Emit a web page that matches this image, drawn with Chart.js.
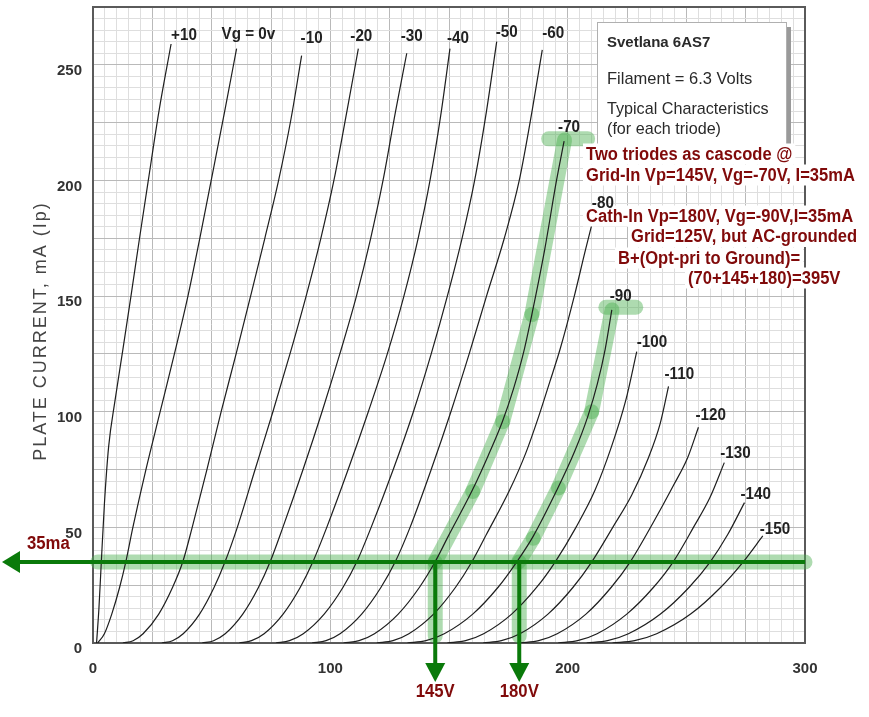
<!DOCTYPE html>
<html>
<head>
<meta charset="utf-8">
<script src="https://cdn.jsdelivr.net/npm/chart.js@4.4.1/dist/chart.umd.min.js"></script>
<style>
  html, body { margin: 0; padding: 0; background: #fff; }
  canvas { display: block; }
</style>
</head>
<body>
<canvas id="tubeChart" width="869" height="717"></canvas>
<script>
// Svetlana 6AS7 plate curves, points are [plate volts, plate mA]
const vgLabels = ['+10', 'Vg = 0v', '-10', '-20', '-30', '-40', '-50', '-60', '-70',
                  '-80', '-90', '-100', '-110', '-120', '-130', '-140', '-150'];

const ipVgP10 = [[1.5,0],[2.5,15],[3.5,35],[4.8,60],[6.6,85],[9.3,105],[12.6,127],[16,150],[19.6,175],[23.3,200],[27.8,230],[32.9,259]];
const ipVg0 = [[2,0],[4.8,4],[7.9,12.5],[11.2,24],[13.8,35],[16.8,50],[22.3,75],[28.3,100],[34.3,125],[40,150],[45,175],[49.8,200],[55.5,230],[60.5,257]];
const ipVgM10 = [[12.6,0],[16.9,1],[21.1,4],[27.7,12.5],[33.5,24],[37.8,35],[41.8,50],[48,75],[54,100],[60.3,125],[66.4,150],[72.4,175],[78.2,200],[83.5,227],[87.9,254]];
const ipVgM20 = [[29,0],[33.5,1],[38,4],[44.9,12.5],[51,24],[55.6,35],[60.8,50],[68.3,75],[75.8,100],[83,125],[89.8,150],[96,175],[101.5,200],[107,230],[111.8,257]];
const ipVgM30 = [[46,0],[50.8,1],[55.7,4],[63.1,12.5],[69.7,24],[74.6,35],[80,50],[88.5,75],[96.5,100],[104,125],[111,150],[117,175],[122.2,200],[127.5,230],[132.2,255]];
const ipVgM40 = [[61.6,0],[66.8,1],[72.1,4],[80.1,12.5],[87.3,24],[92.6,35],[98.5,50],[107.5,75],[116,100],[124,125],[131,150],[137,175],[142,200],[146.5,228],[150.4,257]];
const ipVgM50 = [[77.1,0],[82.8,1],[88.6,4],[97.4,12.5],[105.3,24],[111.1,35],[117.2,50],[126.5,75],[135,100],[142.5,125],[149.3,150],[155.5,175],[160.8,200],[165.8,230],[170.1,260]];
const ipVgM60 = [[92.3,0],[98.2,1],[104.1,4],[113.2,12.5],[121.3,24],[127.3,35],[133.6,50],[142.5,75],[150.8,100],[158.5,125],[165.8,150],[173.3,175],[179.6,200],[185,230],[189.3,256.5]];
const ipVgM70 = [[105.6,0],[112.1,1],[118.6,4],[128.6,12.5],[137.5,24],[144.1,35],[149.6,46],[159.8,66],[166.5,81],[172.6,96],[177.2,110],[181.5,126],[184.9,142],[190.3,170],[195.3,200],[198.5,217]];
const ipVgM80 = [[119.6,0],[126.4,1],[133.1,4],[143.5,12.5],[152.7,24],[159.6,35],[165.8,47],[175.5,66],[182.3,82],[187.8,98],[192.5,113],[196.8,127],[202.8,150],[207.5,170],[210.2,181]];
const ipVgM90 = [[132.5,0],[140.3,1],[148,4],[160,12.5],[170.6,24],[178.5,35],[185.4,46],[195.4,66],[203,83],[208.5,98],[212.5,112],[215.8,127],[218.6,144]];
const ipVgM100 = [[149.3,0],[157,1],[164.6,4],[176.4,12.5],[186.9,24],[194.7,35],[203.5,50],[211.5,66],[218.5,85],[224.5,105],[229.1,126]];
const ipVgM110 = [[164.4,0],[172.1,1],[179.9,4],[191.7,12.5],[202.2,24],[210.1,35],[219,50],[227,64],[234,80],[239,95],[242.5,111]];
const ipVgM120 = [[180,0],[187.8,1],[195.6,4],[207.7,12.5],[218.3,24],[226.3,35],[236,52],[244.5,68],[250.5,80],[255.1,93.3]];
const ipVgM130 = [[196,0],[204.2,1],[212.4,4],[224.9,12.5],[236.1,24],[244.4,35],[253,50],[260,63],[266,78]];
const ipVgM140 = [[208,0],[216.8,1],[225.6,4],[239.1,12.5],[251.1,24],[260,35],[267.5,47],[274.5,60.7]];
const ipVgM150 = [[218.9,0],[228.2,1],[237.5,4],[251.8,12.5],[264.4,24],[273.9,35],[282.2,46.3]];

const curves = [ipVgP10, ipVg0, ipVgM10, ipVgM20, ipVgM30, ipVgM40, ipVgM50, ipVgM60, ipVgM70,
                ipVgM80, ipVgM90, ipVgM100, ipVgM110, ipVgM120, ipVgM130, ipVgM140, ipVgM150];

const xTickLabels = [0, 100, 200, 300];
const yTickLabels = [0, 50, 100, 150, 200, 250];

// cascode operating point marks
const loadLineMa = 35;
const loadLineLabel = '35ma';
const opVp = [144.2, 179.6];
const opVpLabels = ['145V', '180V'];
const gridInTrace = [[144.1,35],[160,65.5],[172.6,95.7],[184.9,142],[198.7,217.5]];
const gridInCap = [[192,218],[208.4,218]];
const cathInTrace = [[179.3,35],[185.5,45.3],[196.1,67],[210.1,100],[218.7,144]];
const cathInCap = [[216.1,145.2],[228.7,145.2]];

const infoLines = ['Svetlana 6AS7', 'Filament = 6.3 Volts', 'Typical Characteristics', '(for each triode)'];
const noteLines = ['Two triodes as cascode @', 'Grid-In Vp=145V, Vg=-70V, I=35mA',
                   'Cath-In Vp=180V, Vg=-90V,I=35mA', 'Grid=125V, but AC-grounded',
                   'B+(Opt-pri to Ground)=', '(70+145+180)=395V'];

const BAND = 'rgba(76,175,80,0.45)';
const DARK_GREEN = '#0a7a0a';
const DARK_RED = '#800a0a';
const SANS = "'Liberation Sans', Arial, sans-serif";

const toPts = arr => arr.map(p => ({ x: p[0], y: p[1] }));

const curveSets = curves.map((c, i) => ({
    label: vgLabels[i],
    data: toPts(c),
    showLine: true,
    borderColor: '#1e1e1e',
    borderWidth: 1.2,
    pointRadius: 0,
    cubicInterpolationMode: 'monotone',
    order: 0
}));

function bandSet(pts, dots) {
    return {
        data: toPts(pts),
        showLine: true,
        borderColor: BAND,
        borderWidth: 15,
        borderCapStyle: 'round',
        borderJoinStyle: 'round',
        pointRadius: dots,
        pointBackgroundColor: BAND,
        pointBorderWidth: 0,
        pointHoverRadius: 0,
        tension: 0,
        clip: false,
        order: 1
    };
}

const bandSets = [
    bandSet([[2, loadLineMa], [300, loadLineMa]], 0),
    bandSet([[opVp[0], loadLineMa], [opVp[0], 3]], 0),
    bandSet([[opVp[1], loadLineMa], [opVp[1], 3]], 0),
    bandSet(gridInTrace, [0, 7.5, 7.5, 7.5, 0]),
    bandSet(gridInCap, 0),
    bandSet(cathInTrace, [0, 7.5, 7.5, 7.5, 0]),
    bandSet(cathInCap, 0)
];

// small pixel nudges for the curve labels [dx, dy] from the curve's top end
const labelNudge = {
    '+10': [0, -4], 'Vg = 0v': [-15, -10], '-10': [-1, -13], '-20': [-8, -8], '-30': [-6, -12],
    '-40': [-3, -6], '-50': [-1, -5], '-60': [0, -12], '-70': [-6, -9], '-80': [0, -16],
    '-90': [-2, -9], '-100': [0, -5], '-110': [-4, -7], '-120': [-3, -7], '-130': [-4, -5],
    '-140': [-4, -4], '-150': [-3, -2]
};

function drawText(ctx, str, x, y, font, color, sx, align) {
    ctx.save();
    ctx.font = font;
    ctx.fillStyle = color;
    ctx.textBaseline = 'alphabetic';
    ctx.textAlign = align || 'left';
    ctx.translate(x, y);
    ctx.scale(sx, 1);
    ctx.fillText(str, 0, 0);
    ctx.restore();
}

function textWidth(ctx, str, font, sx) {
    ctx.save();
    ctx.font = font;
    const w = ctx.measureText(str).width * sx;
    ctx.restore();
    return w;
}

function arrow(ctx, x1, y1, x2, y2, head, half) {
    const ang = Math.atan2(y2 - y1, x2 - x1);
    const bx = x2 - Math.cos(ang) * head, by = y2 - Math.sin(ang) * head;
    ctx.beginPath();
    ctx.moveTo(x1, y1);
    ctx.lineTo(bx, by);
    ctx.stroke();
    ctx.beginPath();
    ctx.moveTo(x2, y2);
    ctx.lineTo(bx + Math.sin(ang) * half, by - Math.cos(ang) * half);
    ctx.lineTo(bx - Math.sin(ang) * half, by + Math.cos(ang) * half);
    ctx.closePath();
    ctx.fill();
}

const frame = {
    id: 'frame',
    beforeDatasetsDraw(chart) {
        const { ctx, chartArea: a } = chart;
        ctx.save();
        ctx.strokeStyle = '#5a5a5a';
        ctx.lineWidth = 2;
        ctx.strokeRect(a.left, a.top, a.right - a.left, a.bottom - a.top);
        ctx.restore();
    },
    afterDatasetsDraw(chart) {
        const { ctx, scales: { x, y } } = chart;
        const a = chart.chartArea;

        // dark green load line + arrows
        ctx.save();
        ctx.strokeStyle = DARK_GREEN;
        ctx.fillStyle = DARK_GREEN;
        ctx.lineWidth = 4;
        const yLoad = y.getPixelForValue(loadLineMa);
        arrow(ctx, a.right, yLoad, 2, yLoad, 18, 11);
        opVp.forEach(v => {
            const px = x.getPixelForValue(v);
            arrow(ctx, px, yLoad, px, 682, 19, 10);
        });
        ctx.restore();

        const red = "bold 18px " + SANS;
        drawText(ctx, loadLineLabel, 27, 549, red, DARK_RED, 0.93);
        opVp.forEach((v, i) => {
            drawText(ctx, opVpLabels[i], x.getPixelForValue(v), 697, red, DARK_RED, 0.93, 'center');
        });

        // info box
        ctx.save();
        ctx.fillStyle = '#9a9a9a';
        ctx.fillRect(601, 27, 190, 124);
        ctx.fillStyle = '#fff';
        ctx.fillRect(597, 22, 190, 124);
        ctx.strokeStyle = '#b0b0b0';
        ctx.lineWidth = 1;
        ctx.strokeRect(597.5, 22.5, 189, 123);
        ctx.restore();
        drawText(ctx, infoLines[0], 607, 46.5, "bold 15px " + SANS, '#2a2a2a', 1.0);
        const inf = "17px " + SANS;
        drawText(ctx, infoLines[1], 607, 84, inf, '#2a2a2a', 0.97);
        drawText(ctx, infoLines[2], 607, 114, inf, '#2a2a2a', 0.95);
        drawText(ctx, infoLines[3], 607, 134, inf, '#2a2a2a', 0.95);

        // red notes with white backing
        const nf = "bold 18px " + SANS;
        const notePos = [[586, 159.5], [586, 180.5], [586, 221.5], [631, 242], [618, 263.5], [688, 283.5]];
        noteLines.forEach((s, i) => {
            const w = textWidth(ctx, s, nf, 0.92);
            ctx.fillStyle = '#fff';
            ctx.fillRect(notePos[i][0] - 3, notePos[i][1] - 16, w + 6, 21);
        });
        noteLines.forEach((s, i) => {
            drawText(ctx, s, notePos[i][0], notePos[i][1], nf, DARK_RED, 0.92);
        });

        // curve labels
        const lf = "bold 16px " + SANS;
        curves.forEach((c, i) => {
            const top = c[c.length - 1];
            const n = labelNudge[vgLabels[i]] || [0, -6];
            drawText(ctx, vgLabels[i], x.getPixelForValue(top[0]) + n[0],
                     y.getPixelForValue(top[1]) + n[1], lf, '#222', 0.95);
        });

        // y axis title
        ctx.save();
        ctx.translate(46, 331);
        ctx.rotate(-Math.PI / 2);
        ctx.font = "18px " + SANS;
        ctx.letterSpacing = '2px';
        ctx.fillStyle = '#444';
        ctx.textAlign = 'center';
        ctx.fillText('PLATE CURRENT, mA (Ip)', 0, 0);
        ctx.restore();
    }
};

const gridColor = c => (c.tick && c.tick.value % 25 === 0) ? '#b9b9b9' : '#dedede';

new Chart(document.getElementById('tubeChart'), {
    type: 'scatter',
    data: { datasets: [...curveSets, ...bandSets] },
    options: {
        responsive: false,
        animation: false,
        events: [],
        layout: { padding: { left: 0, right: 64, top: 7, bottom: 0 } },
        plugins: { legend: { display: false }, tooltip: { enabled: false } },
        scales: {
            x: {
                type: 'linear', min: 0, max: 300,
                afterFit: s => { s.height = 74; s.paddingLeft = 0; s.paddingRight = 0; },
                grid: { color: gridColor, drawTicks: false },
                border: { color: '#555', width: 2 },
                ticks: {
                    stepSize: 5, autoSkip: false, maxRotation: 0, maxTicksLimit: 100, padding: 17,
                    color: '#333', font: { family: SANS, size: 15, weight: 'bold' },
                    callback: v => xTickLabels.includes(v) ? String(v) : ''
                }
            },
            y: {
                type: 'linear', min: 0, max: 275,
                afterFit: s => { s.width = 93; s.paddingTop = 0; s.paddingBottom = 0; },
                grid: { color: gridColor, drawTicks: false },
                border: { color: '#555', width: 2 },
                ticks: {
                    stepSize: 5, autoSkip: false, maxTicksLimit: 100, padding: 11, labelOffset: 6,
                    color: '#333', font: { family: SANS, size: 15, weight: 'bold' },
                    callback: v => yTickLabels.includes(v) ? String(v) : ''
                }
            }
        }
    },
    plugins: [frame]
});
</script>
</body>
</html>
